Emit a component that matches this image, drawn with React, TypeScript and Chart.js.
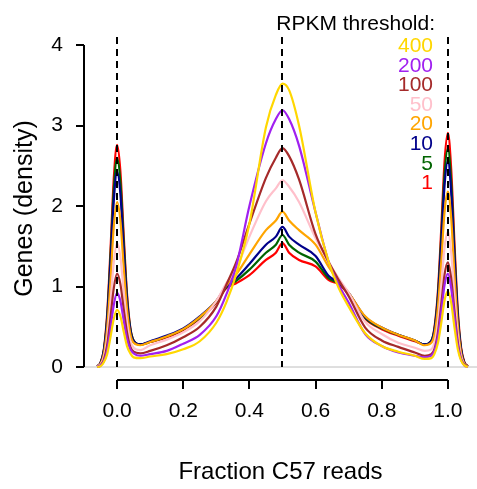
import { useEffect, useRef } from "react";
import { Chart, registerables } from "chart.js";

Chart.register(...registerables);

// ---------- data ----------
const fractionC57 = [
  -0.06, -0.05, -0.04, -0.03, -0.02, -0.01, 0, 0.01, 0.02, 0.03, 0.04, 0.05,
  0.07, 0.1, 0.15, 0.2, 0.25, 0.3, 0.33, 0.36, 0.4, 0.45, 0.48, 0.5, 0.52, 0.55,
  0.6, 0.64, 0.67, 0.7, 0.75, 0.8, 0.85, 0.9, 0.93,
  0.95, 0.96, 0.97, 0.98, 0.99, 1.0, 1.01, 1.02, 1.03, 1.04, 1.05, 1.06,
];

const rpkm1 = [
  0.01, 0.055, 0.22, 0.66, 1.45, 2.34, 2.76, 2.43, 1.64, 0.91, 0.49, 0.33,
  0.28, 0.31, 0.37, 0.46, 0.6, 0.8, 0.98, 1.04, 1.14, 1.33, 1.42, 1.54, 1.42, 1.33,
  1.25, 1.08, 1.03, 0.9, 0.6, 0.47, 0.39, 0.32, 0.28,
  0.32, 0.51, 0.95, 1.72, 2.56, 2.91, 2.46, 1.53, 0.7, 0.24, 0.06, 0.01,
];
const rpkm5 = [
  0.01, 0.05, 0.21, 0.62, 1.37, 2.2, 2.6, 2.3, 1.56, 0.87, 0.48, 0.33,
  0.28, 0.31, 0.38, 0.47, 0.61, 0.81, 0.99, 1.07, 1.21, 1.42, 1.52, 1.64, 1.52, 1.42,
  1.31, 1.1, 1.04, 0.91, 0.61, 0.48, 0.4, 0.33, 0.28,
  0.33, 0.49, 0.9, 1.62, 2.4, 2.72, 2.3, 1.43, 0.65, 0.22, 0.05, 0.01,
];
const rpkm10 = [
  0.01, 0.05, 0.2, 0.58, 1.28, 2.06, 2.43, 2.15, 1.46, 0.82, 0.46, 0.32,
  0.28, 0.32, 0.39, 0.48, 0.63, 0.82, 1.0, 1.1, 1.28, 1.52, 1.62, 1.74, 1.62, 1.52,
  1.38, 1.13, 1.05, 0.92, 0.62, 0.49, 0.4, 0.33, 0.28,
  0.32, 0.47, 0.85, 1.53, 2.26, 2.56, 2.17, 1.35, 0.61, 0.21, 0.05, 0.01,
];
const rpkm20 = [
  0.01, 0.04, 0.16, 0.48, 1.07, 1.74, 2.05, 1.82, 1.24, 0.72, 0.41, 0.3,
  0.27, 0.31, 0.38, 0.47, 0.62, 0.82, 1.01, 1.15, 1.4, 1.7, 1.82, 1.93, 1.82, 1.7,
  1.52, 1.24, 1.07, 0.92, 0.63, 0.49, 0.4, 0.33, 0.27,
  0.3, 0.42, 0.75, 1.31, 1.93, 2.18, 1.85, 1.14, 0.52, 0.17, 0.04, 0.01,
];
const rpkm50 = [
  0.01, 0.03, 0.12, 0.36, 0.8, 1.3, 1.54, 1.37, 0.94, 0.55, 0.32, 0.24,
  0.21, 0.27, 0.34, 0.43, 0.57, 0.82, 1.04, 1.22, 1.62, 2.06, 2.22, 2.32, 2.24, 2.05,
  1.6, 1.3, 1.1, 0.92, 0.56, 0.41, 0.3, 0.24, 0.2,
  0.22, 0.31, 0.56, 1.01, 1.49, 1.68, 1.42, 0.88, 0.4, 0.13, 0.03, 0,
];
const rpkm100 = [
  0, 0.02, 0.09, 0.27, 0.61, 0.98, 1.16, 1.03, 0.72, 0.43, 0.25, 0.19,
  0.17, 0.2, 0.27, 0.37, 0.5, 0.75, 1.02, 1.3, 1.78, 2.35, 2.6, 2.72, 2.62, 2.33,
  1.65, 1.3, 1.08, 0.88, 0.49, 0.33, 0.25, 0.18, 0.14,
  0.16, 0.23, 0.43, 0.78, 1.15, 1.3, 1.1, 0.69, 0.31, 0.1, 0.03, 0,
];
const rpkm200 = [
  0, 0.02, 0.07, 0.21, 0.48, 0.77, 0.92, 0.82, 0.58, 0.35, 0.22, 0.17,
  0.14, 0.16, 0.2, 0.29, 0.4, 0.63, 0.9, 1.25, 2.0, 2.78, 3.08, 3.19, 3.08, 2.75,
  1.92, 1.3, 1.02, 0.8, 0.41, 0.26, 0.18, 0.14, 0.12,
  0.14, 0.21, 0.38, 0.69, 1.02, 1.16, 0.98, 0.61, 0.27, 0.09, 0.02, 0,
];
const rpkm400 = [
  0, 0.01, 0.06, 0.16, 0.37, 0.6, 0.71, 0.63, 0.44, 0.26, 0.17, 0.12,
  0.11, 0.13, 0.16, 0.22, 0.32, 0.55, 0.8, 1.15, 1.78, 2.98, 3.38, 3.52, 3.44, 3.0,
  1.92, 1.3, 0.98, 0.75, 0.42, 0.26, 0.19, 0.14, 0.1,
  0.11, 0.17, 0.3, 0.55, 0.83, 0.94, 0.8, 0.49, 0.22, 0.08, 0.02, 0,
];

const thresholdLabels = ["400", "200", "100", "50", "20", "10", "5", "1"];
const seriesValues = [rpkm400, rpkm200, rpkm100, rpkm50, rpkm20, rpkm10, rpkm5, rpkm1];
const xTicks = [0, 0.2, 0.4, 0.6, 0.8, 1.0];
const yTicks = [0, 1, 2, 3, 4];
const dashedAt = [0, 0.5, 1];

// ---------- styles ----------
const seriesColors = ["#FFD700", "#A020F0", "#A52A2A", "#FFC0CB", "#FFA500", "#00008B", "#006400", "#FF0000"];
const FONT = "'Liberation Sans', Arial, Helvetica, sans-serif";

const decorPlugin = {
  id: "decor",
  beforeDatasetsDraw(chart: any) {
    const { ctx, chartArea, scales } = chart;
    const y0 = scales.y.getPixelForValue(0);
    ctx.save();
    ctx.strokeStyle = "#BEBEBE";
    ctx.lineWidth = 1;
    ctx.beginPath();
    ctx.moveTo(chartArea.left, y0);
    ctx.lineTo(chartArea.right, y0);
    ctx.stroke();
    ctx.restore();
  },
  afterDatasetsDraw(chart: any) {
    const { ctx, chartArea, scales } = chart;
    const { x, y } = scales;
    ctx.save();
    ctx.strokeStyle = "#000";
    ctx.lineWidth = 2;
    ctx.setLineDash([7, 5]);
    for (const v of dashedAt) {
      const px = Math.round(x.getPixelForValue(v));
      ctx.beginPath();
      ctx.moveTo(px, chartArea.top);
      ctx.lineTo(px, y.getPixelForValue(0));
      ctx.stroke();
    }
    ctx.setLineDash([]);
    ctx.lineWidth = 2;
    const ax = chartArea.left;
    ctx.beginPath();
    ctx.moveTo(ax, y.getPixelForValue(yTicks[0]));
    ctx.lineTo(ax, y.getPixelForValue(yTicks[yTicks.length - 1]));
    ctx.stroke();
    const ay = chartArea.bottom;
    ctx.beginPath();
    ctx.moveTo(x.getPixelForValue(xTicks[0]), ay);
    ctx.lineTo(x.getPixelForValue(xTicks[xTicks.length - 1]), ay);
    ctx.stroke();
    ctx.restore();
  },
  afterDraw(chart: any) {
    const { ctx } = chart;
    ctx.save();
    ctx.font = `21px ${FONT}`;
    ctx.textAlign = "right";
    ctx.textBaseline = "alphabetic";
    ctx.fillStyle = "#000";
    ctx.fillText("RPKM threshold:", 435, 30);
    thresholdLabels.forEach((lab, i) => {
      ctx.fillStyle = seriesColors[i];
      ctx.fillText(lab, 433, 52 + i * 19.6);
    });
    ctx.restore();
  },
};

export default function App() {
  const ref = useRef<HTMLCanvasElement | null>(null);
  useEffect(() => {
    if (!ref.current) return;
    const chart = new Chart(ref.current, {
      type: "line",
      data: {
        datasets: seriesValues.map((vals, i) => ({
          label: thresholdLabels[i],
          data: vals.map((v, j) => ({ x: fractionC57[j], y: v })),
          borderColor: seriesColors[i],
          borderWidth: 2.2,
          pointRadius: 0,
          fill: false,
          cubicInterpolationMode: "monotone" as const,
        })),
      },
      options: {
        responsive: false,
        animation: false,
        layout: { padding: { top: 37, right: 0, left: 0, bottom: 0 } },
        plugins: { legend: { display: false }, tooltip: { enabled: false } },
        scales: {
          x: {
            type: "linear",
            min: -0.1,
            max: 1.088,
            afterFit: (s: any) => { s.height = 109; },
            afterBuildTicks: (s: any) => { s.ticks = xTicks.map((v) => ({ value: v })); },
            ticks: {
              callback: (v: any) => Number(v).toFixed(1),
              font: { family: FONT, size: 21 },
              color: "#000",
              padding: 10,
              autoSkip: false,
              maxRotation: 0,
            },
            grid: { drawOnChartArea: false, drawTicks: true, tickLength: 9, color: "#000", lineWidth: 2 },
            border: { display: false },
            title: {
              display: true,
              text: "Fraction C57 reads",
              font: { family: FONT, size: 24 },
              color: "#000",
              padding: { top: 0, bottom: 2 },
            },
          },
          y: {
            type: "linear",
            min: -0.1615,
            max: 4.1,
            afterFit: (s: any) => { s.width = 84; },
            afterBuildTicks: (s: any) => { s.ticks = yTicks.map((v) => ({ value: v })); },
            ticks: {
              font: { family: FONT, size: 21 },
              color: "#000",
              padding: 13,
            },
            grid: { drawOnChartArea: false, drawTicks: true, tickLength: 8, color: "#000", lineWidth: 2 },
            border: { display: false },
            title: {
              display: true,
              text: "Genes (density)",
              font: { family: FONT, size: 25 },
              color: "#000",
              padding: { top: 10, bottom: 0 },
            },
          },
        },
      },
      plugins: [decorPlugin],
    });
    return () => chart.destroy();
  }, []);
  return (
    <div style={{ position: "absolute", left: 0, top: 0, width: 477, height: 489, background: "#fff" }}>
      <canvas ref={ref} width={477} height={489} style={{ display: "block" }} />
    </div>
  );
}
